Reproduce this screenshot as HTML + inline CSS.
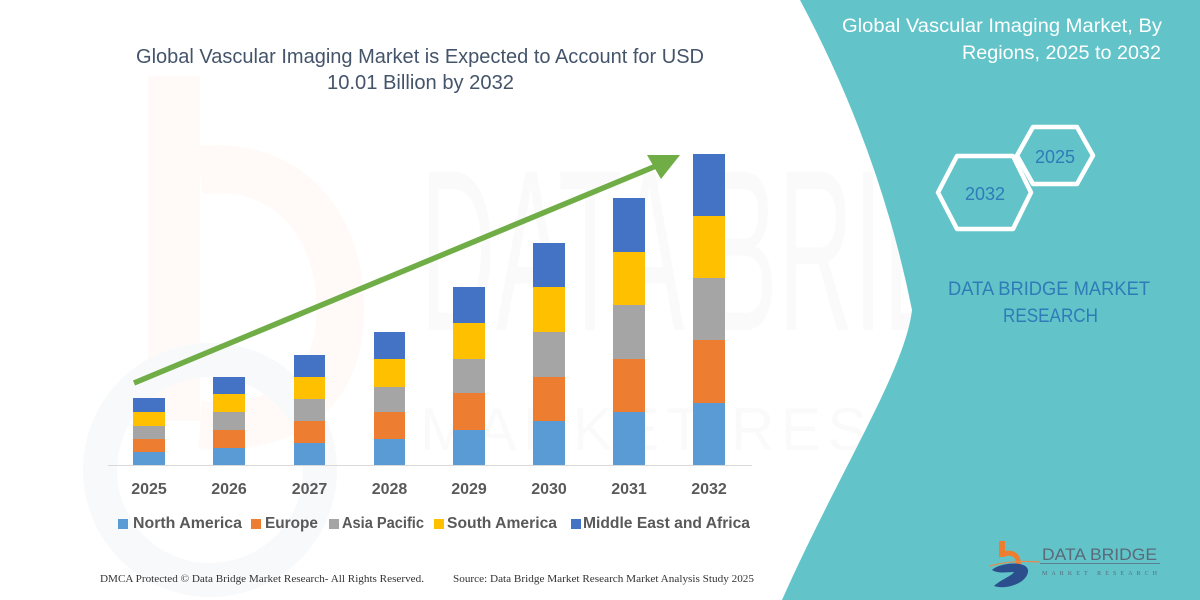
<!DOCTYPE html>
<html><head><meta charset="utf-8"><style>
html,body{margin:0;padding:0;background:#fff;}
svg{display:block;}
</style></head><body>
<svg width="1200" height="600" viewBox="0 0 1200 600" xmlns="http://www.w3.org/2000/svg">
<rect width="1200" height="600" fill="#ffffff"/>
<!-- faint watermarks -->
<g>
  <rect x="148" y="76" width="52" height="345" fill="#fffaf7"/>
  <path d="M200,170 C300,160 345,240 340,320 C335,400 280,430 200,425" fill="none" stroke="#fffaf7" stroke-width="48"/>
  <circle cx="210" cy="470" r="110" fill="none" stroke="#f8f9fb" stroke-width="34"/>
</g>
<text x="420" y="330" font-family="Liberation Sans, sans-serif" font-size="230" textLength="690" lengthAdjust="spacingAndGlyphs" fill="#000" fill-opacity="0.018">DATA BRIDGE</text>
<text x="420" y="450" font-family="Liberation Sans, sans-serif" font-size="60" textLength="690" lengthAdjust="spacing" fill="#000" fill-opacity="0.018">MARKET RESEARCH</text>

<!-- teal panel -->
<path d="M800,0 Q880,150 912,310 C905,370 840,470 782,600 L1200,600 L1200,0 Z" fill="#62c4c9"/>

<!-- main title -->
<text x="136" y="63" font-family="Liberation Sans, sans-serif" font-size="20" fill="#44546a" textLength="568" lengthAdjust="spacingAndGlyphs">Global Vascular Imaging Market is Expected to Account for USD</text>
<text x="327" y="89" font-family="Liberation Sans, sans-serif" font-size="20" fill="#44546a" textLength="187" lengthAdjust="spacingAndGlyphs">10.01 Billion by 2032</text>

<!-- axis -->
<line x1="108" y1="465.5" x2="752" y2="465.5" stroke="#d9d9d9" stroke-width="1"/>

<!-- bars -->
<g>
  <rect x="133" y="452" width="32" height="13" fill="#5b9bd5"/>
  <rect x="133" y="439" width="32" height="13" fill="#ed7d31"/>
  <rect x="133" y="426" width="32" height="13" fill="#a5a5a5"/>
  <rect x="133" y="412" width="32" height="14" fill="#ffc000"/>
  <rect x="133" y="398" width="32" height="14" fill="#4472c4"/>
  <rect x="213" y="448" width="32" height="17" fill="#5b9bd5"/>
  <rect x="213" y="430" width="32" height="18" fill="#ed7d31"/>
  <rect x="213" y="412" width="32" height="18" fill="#a5a5a5"/>
  <rect x="213" y="394" width="32" height="18" fill="#ffc000"/>
  <rect x="213" y="377" width="32" height="17" fill="#4472c4"/>
  <rect x="294" y="443" width="31" height="22" fill="#5b9bd5"/>
  <rect x="294" y="421" width="31" height="22" fill="#ed7d31"/>
  <rect x="294" y="399" width="31" height="22" fill="#a5a5a5"/>
  <rect x="294" y="377" width="31" height="22" fill="#ffc000"/>
  <rect x="294" y="355" width="31" height="22" fill="#4472c4"/>
  <rect x="374" y="439" width="31" height="26" fill="#5b9bd5"/>
  <rect x="374" y="412" width="31" height="27" fill="#ed7d31"/>
  <rect x="374" y="387" width="31" height="25" fill="#a5a5a5"/>
  <rect x="374" y="359" width="31" height="28" fill="#ffc000"/>
  <rect x="374" y="332" width="31" height="27" fill="#4472c4"/>
  <rect x="453" y="430" width="32" height="35" fill="#5b9bd5"/>
  <rect x="453" y="393" width="32" height="37" fill="#ed7d31"/>
  <rect x="453" y="359" width="32" height="34" fill="#a5a5a5"/>
  <rect x="453" y="323" width="32" height="36" fill="#ffc000"/>
  <rect x="453" y="287" width="32" height="36" fill="#4472c4"/>
  <rect x="533" y="421" width="32" height="44" fill="#5b9bd5"/>
  <rect x="533" y="377" width="32" height="44" fill="#ed7d31"/>
  <rect x="533" y="332" width="32" height="45" fill="#a5a5a5"/>
  <rect x="533" y="287" width="32" height="45" fill="#ffc000"/>
  <rect x="533" y="243" width="32" height="44" fill="#4472c4"/>
  <rect x="613" y="412" width="32" height="53" fill="#5b9bd5"/>
  <rect x="613" y="359" width="32" height="53" fill="#ed7d31"/>
  <rect x="613" y="305" width="32" height="54" fill="#a5a5a5"/>
  <rect x="613" y="252" width="32" height="53" fill="#ffc000"/>
  <rect x="613" y="198" width="32" height="54" fill="#4472c4"/>
  <rect x="693" y="403" width="32" height="62" fill="#5b9bd5"/>
  <rect x="693" y="340" width="32" height="63" fill="#ed7d31"/>
  <rect x="693" y="278" width="32" height="62" fill="#a5a5a5"/>
  <rect x="693" y="216" width="32" height="62" fill="#ffc000"/>
  <rect x="693" y="154" width="32" height="62" fill="#4472c4"/>
</g>

<!-- arrow -->
<line x1="134" y1="383" x2="656" y2="166" stroke="#70ad47" stroke-width="5.5"/>
<polygon points="680,155 647,155 661,179" fill="#70ad47"/>

<!-- year labels -->
<g font-family="Liberation Sans, sans-serif" font-size="16" font-weight="bold" fill="#595959" text-anchor="middle">
  <text x="149" y="494">2025</text>
  <text x="229" y="494">2026</text>
  <text x="309.5" y="494">2027</text>
  <text x="389.5" y="494">2028</text>
  <text x="469" y="494">2029</text>
  <text x="549" y="494">2030</text>
  <text x="629" y="494">2031</text>
  <text x="709" y="494">2032</text>
</g>

<!-- legend -->
<g font-family="Liberation Sans, sans-serif" font-size="15.5" font-weight="bold" fill="#595959">
  <rect x="118" y="519" width="10" height="10" fill="#5b9bd5"/>
  <text x="133" y="528" textLength="109" lengthAdjust="spacingAndGlyphs">North America</text>
  <rect x="251" y="519" width="10" height="10" fill="#ed7d31"/>
  <text x="265" y="528" textLength="53" lengthAdjust="spacingAndGlyphs">Europe</text>
  <rect x="329" y="519" width="10" height="10" fill="#a5a5a5"/>
  <text x="342" y="528" textLength="82" lengthAdjust="spacingAndGlyphs">Asia Pacific</text>
  <rect x="434" y="519" width="10" height="10" fill="#ffc000"/>
  <text x="447" y="528" textLength="110" lengthAdjust="spacingAndGlyphs">South America</text>
  <rect x="571" y="519" width="10" height="10" fill="#4472c4"/>
  <text x="583" y="528" textLength="167" lengthAdjust="spacingAndGlyphs">Middle East and Africa</text>
</g>

<!-- footer -->
<g font-family="Liberation Serif, serif" font-size="10" fill="#333333">
  <text x="100" y="582" textLength="324" lengthAdjust="spacingAndGlyphs">DMCA Protected © Data Bridge Market Research-  All Rights Reserved.</text>
  <text x="453" y="582" textLength="301" lengthAdjust="spacingAndGlyphs">Source: Data Bridge Market Research  Market Analysis Study 2025</text>
</g>

<!-- right panel title -->
<g font-family="Liberation Sans, sans-serif" font-size="19" fill="#ffffff">
  <text x="842" y="32" textLength="320" lengthAdjust="spacingAndGlyphs">Global Vascular Imaging Market, By</text>
  <text x="962" y="59" textLength="199" lengthAdjust="spacingAndGlyphs">Regions, 2025 to 2032</text>
</g>

<!-- hexagons -->
<g fill="none" stroke="#ffffff" stroke-width="4.5" stroke-linejoin="round">
  <polygon points="1017,155.5 1033,127 1077,127 1093,155.5 1077,184 1033,184"/>
  <polygon points="938,192.5 957,156 1013,156 1031,192.5 1013,229 957,229"/>
</g>
<g font-family="Liberation Sans, sans-serif" font-size="18" fill="#2e7bb8" text-anchor="middle">
  <text x="1055" y="163">2025</text>
  <text x="985" y="200">2032</text>
</g>
<g font-family="Liberation Sans, sans-serif" font-size="19" fill="#2e7bb8">
  <text x="948" y="295" textLength="202" lengthAdjust="spacingAndGlyphs">DATA BRIDGE MARKET</text>
  <text x="1003" y="322" textLength="95" lengthAdjust="spacingAndGlyphs">RESEARCH</text>
</g>

<!-- logo -->
<g>
  <rect x="999" y="541" width="6" height="16" fill="#ee7d2f"/>
  <path d="M1002,555 C1012,550 1020,556 1018,566" fill="none" stroke="#ee7d2f" stroke-width="5"/>
  <path d="M992,570 C1000,562 1030,560 1028,572 C1026,584 1005,590 994,586 C1000,580 1012,576 1014,572 C1008,572 998,574 992,570 Z" fill="#2b4f8c"/>
  <path d="M990,566 Q1010,560 1040,562" fill="none" stroke="#e58a4a" stroke-width="1.2"/>
  <text x="1042" y="560" font-family="Liberation Sans, sans-serif" font-size="17" fill="#5a6a78" textLength="115" lengthAdjust="spacingAndGlyphs">DATA BRIDGE</text>
  <line x1="1040" y1="563.5" x2="1160" y2="563.5" stroke="#5a6a78" stroke-width="0.8"/>
  <text x="1042" y="575" font-family="Liberation Serif, serif" font-size="6" fill="#5a6a78" textLength="115" lengthAdjust="spacing">MARKET RESEARCH</text>
</g>
</svg>
</body></html>
